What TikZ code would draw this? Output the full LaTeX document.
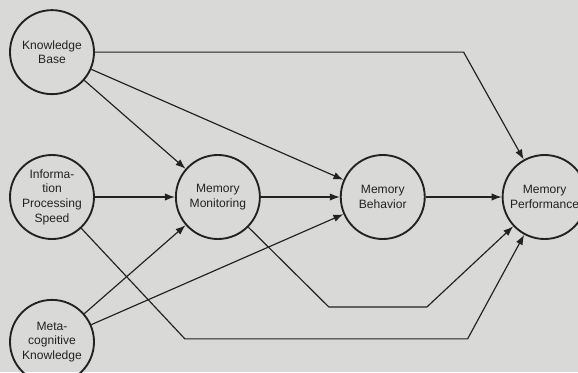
\documentclass[tikz,border=0pt]{standalone}
\usepackage{fontspec}
\setsansfont{Liberation Sans}
\usetikzlibrary{arrows.meta,positioning,calc}
\definecolor{paper}{HTML}{D9D9D7}
\definecolor{ink}{HTML}{222222}
\tikzset{
  factor/.style={
    circle,
    draw=ink,
    line width=1.6pt,
    minimum size=2.52cm,
    inner sep=0pt,
    align=center,
    text=ink,
    font=\sffamily\fontsize{10.3}{12.5}\selectfont
  },
  link/.style={-{Latex[length=3mm,width=2.2mm]}, line width=1pt, draw=ink}
}

\begin{document}
\begin{tikzpicture}[node distance=1.77cm and 2.4cm]
  \useasboundingbox (-1.56,-5.25) rectangle (15.78,5.91);
  \fill[paper] (-1.56,-5.25) rectangle (15.78,5.91);

  \node[factor] (ips) {Informa-\\tion\\Processing\\Speed};
  \node[factor, above=of ips] (kb) {Knowledge\\Base};
  \node[factor, below=of ips] (meta) {Meta-\\cognitive\\Knowledge};
  \node[factor, right=of ips] (mm) {Memory\\Monitoring};
  \node[factor, right=2.37cm of mm] (mb) {Memory\\Behavior};
  \node[factor, right=2.28cm of mb] (mp) {Memory\\Performance};

  % bends of the long routes
  \path (kb -| mp) ++(-2.43,0) coordinate (kbbend);
  \path (meta -| mm) ++(-0.99,0.09) coordinate (lowA);
  \path (meta -| mp) ++(-2.31,0.09) coordinate (lowB);
  \path (mm) ++(3.33,-3.3) coordinate (midA);
  \path (mm) ++(6.27,-3.3) coordinate (midB);

  \draw[link] (kb) -- (kbbend) -- (mp);
  \draw[link] (kb) -- (mm);
  \draw[link] (kb) -- (mb);
  \draw[link] (ips) -- (mm);
  \draw[link] (ips) -- (lowA) -- (lowB) -- (mp);
  \draw[link] (meta) -- (mm);
  \draw[link] (meta) -- (mb);
  \draw[link] (mm) -- (mb);
  \draw[link] (mm) -- (midA) -- (midB) -- (mp);
  \draw[link] (mb) -- (mp);
\end{tikzpicture}
\end{document}
